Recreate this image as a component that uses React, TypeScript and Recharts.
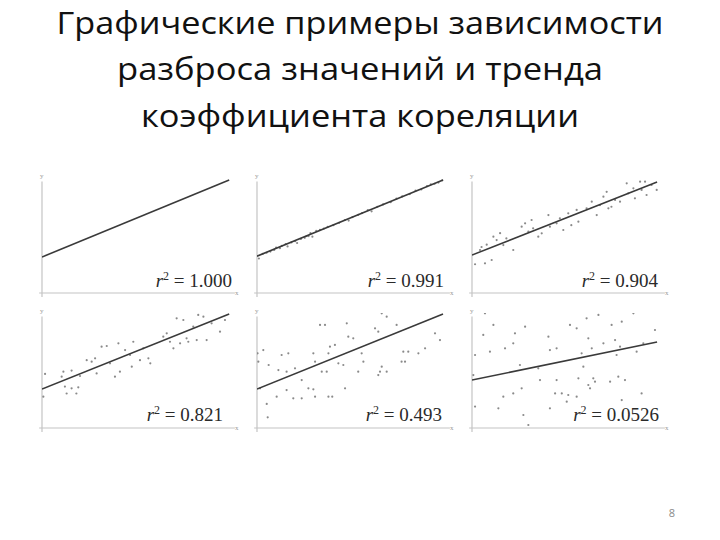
import React from 'react';
import { ScatterChart, Scatter, XAxis, YAxis, ReferenceLine } from 'recharts';

type P = { x: number; y: number };

// ---- data ----
const titleLines = ['Графические примеры зависимости', 'разброса значений и тренда', 'коэффициента кореляции'];
const r2Labels = ['1.000', '0.991', '0.904', '0.821', '0.493', '0.0526'];
const pageNumber = '8';

const trend1: P[] = [{ x: 0, y: 3.13 }, { x: 9.8, y: 9.83 }];
const trend2: P[] = [{ x: 0, y: 3.2 }, { x: 9.74, y: 9.83 }];
const trend3: P[] = [{ x: 0, y: 3.3 }, { x: 9.69, y: 9.65 }];
const trend4: P[] = [{ x: 0, y: 3.39 }, { x: 9.8, y: 9.91 }];
const trend5: P[] = [{ x: 0, y: 3.39 }, { x: 9.74, y: 9.91 }];
const trend6: P[] = [{ x: 0, y: 4.17 }, { x: 9.69, y: 7.48 }];

const points1: P[] = [];

const points2: P[] = [
  { x: 0.1, y: 3.0 }, { x: 0.3, y: 3.4 }, { x: 0.5, y: 3.5 }, { x: 0.7, y: 3.6 }, { x: 0.9, y: 3.75 },
  { x: 1.0, y: 3.95 }, { x: 1.2, y: 3.9 }, { x: 1.3, y: 4.1 }, { x: 1.5, y: 4.25 }, { x: 1.6, y: 4.05 },
  { x: 1.8, y: 4.4 }, { x: 2.0, y: 4.5 }, { x: 2.1, y: 4.35 }, { x: 2.3, y: 4.7 }, { x: 2.5, y: 4.8 },
  { x: 2.6, y: 4.95 }, { x: 2.7, y: 4.95 }, { x: 2.8, y: 5.2 }, { x: 2.9, y: 4.9 }, { x: 3.1, y: 5.4 },
  { x: 3.3, y: 5.5 }, { x: 3.5, y: 5.6 }, { x: 3.7, y: 5.75 }, { x: 4.0, y: 5.9 }, { x: 4.3, y: 6.1 },
  { x: 4.6, y: 6.35 }, { x: 4.8, y: 6.3 }, { x: 5.0, y: 6.6 }, { x: 5.3, y: 6.8 }, { x: 5.5, y: 6.95 },
  { x: 5.8, y: 7.2 }, { x: 6.0, y: 7.1 }, { x: 6.3, y: 7.5 }, { x: 6.6, y: 7.7 }, { x: 7.0, y: 7.9 },
  { x: 7.3, y: 8.2 }, { x: 7.6, y: 8.4 }, { x: 8.0, y: 8.6 }, { x: 8.3, y: 8.9 }, { x: 8.6, y: 9.0 },
  { x: 8.9, y: 9.3 }, { x: 9.1, y: 9.45 }, { x: 9.3, y: 9.5 }, { x: 9.5, y: 9.6 }, { x: 9.7, y: 9.8 },
];

const points3: P[] = [
  { x: 0.16, y: 2.5 }, { x: 0.5, y: 4.0 }, { x: 0.77, y: 4.2 }, { x: 1.03, y: 2.87 }, { x: 0.68, y: 2.58 },
  { x: 1.12, y: 4.9 }, { x: 1.47, y: 5.2 }, { x: 1.64, y: 4.17 }, { x: 1.8, y: 4.75 }, { x: 2.16, y: 3.74 },
  { x: 2.6, y: 5.77 }, { x: 2.78, y: 6.06 }, { x: 3.12, y: 6.35 }, { x: 3.2, y: 5.62 }, { x: 3.47, y: 4.9 },
  { x: 3.65, y: 5.19 }, { x: 4.0, y: 6.78 }, { x: 4.43, y: 6.06 }, { x: 4.78, y: 5.48 }, { x: 5.04, y: 6.93 },
  { x: 5.2, y: 5.9 }, { x: 5.57, y: 6.2 }, { x: 6.0, y: 7.36 }, { x: 6.27, y: 7.94 }, { x: 6.53, y: 6.78 },
  { x: 6.88, y: 8.38 }, { x: 7.05, y: 8.8 }, { x: 7.3, y: 7.5 }, { x: 7.49, y: 8.09 }, { x: 7.75, y: 7.94 },
  { x: 8.1, y: 9.54 }, { x: 8.18, y: 8.67 }, { x: 8.53, y: 8.23 }, { x: 8.8, y: 9.68 }, { x: 8.88, y: 8.96 },
  { x: 9.14, y: 8.52 }, { x: 9.4, y: 9.39 }, { x: 9.67, y: 8.96 }, { x: 9.06, y: 9.68 }, { x: 0.42, y: 3.74 },
  { x: 1.29, y: 4.6 }, { x: 2.95, y: 5.33 }, { x: 4.08, y: 5.77 }, { x: 4.6, y: 6.49 }, { x: 5.48, y: 7.22 },
  { x: 6.7, y: 7.65 }, { x: 7.14, y: 7.36 }, { x: 8.45, y: 9.1 },
];

const points4: P[] = [
  { x: 0.07, y: 2.72 }, { x: 0.16, y: 4.7 }, { x: 1.03, y: 4.46 }, { x: 1.12, y: 4.9 }, { x: 1.55, y: 4.99 },
  { x: 1.2, y: 3.6 }, { x: 1.29, y: 3.0 }, { x: 1.55, y: 3.45 }, { x: 1.8, y: 3.0 }, { x: 1.9, y: 3.54 },
  { x: 1.99, y: 4.52 }, { x: 2.34, y: 5.9 }, { x: 2.6, y: 5.77 }, { x: 2.78, y: 6.06 }, { x: 2.86, y: 4.75 },
  { x: 3.12, y: 7.07 }, { x: 3.39, y: 7.13 }, { x: 3.56, y: 5.62 }, { x: 3.82, y: 4.46 }, { x: 4.08, y: 4.9 },
  { x: 4.0, y: 7.36 }, { x: 4.35, y: 6.78 }, { x: 4.61, y: 6.35 }, { x: 4.7, y: 5.33 }, { x: 4.78, y: 7.5 },
  { x: 5.13, y: 5.9 }, { x: 5.57, y: 6.06 }, { x: 5.67, y: 5.62 }, { x: 5.3, y: 6.93 }, { x: 6.35, y: 7.94 },
  { x: 6.53, y: 8.23 }, { x: 6.7, y: 7.5 }, { x: 7.05, y: 9.54 }, { x: 7.23, y: 7.36 }, { x: 7.57, y: 7.8 },
  { x: 7.66, y: 7.5 }, { x: 7.92, y: 8.81 }, { x: 8.1, y: 7.65 }, { x: 8.18, y: 9.83 }, { x: 8.45, y: 9.68 },
  { x: 8.62, y: 7.65 }, { x: 8.88, y: 9.1 }, { x: 9.32, y: 8.38 }, { x: 9.58, y: 9.39 }, { x: 7.4, y: 9.39 },
  { x: 6.88, y: 6.93 },
];

const points5: P[] = [
  { x: 0.03, y: 6.49 }, { x: 0.07, y: 5.77 }, { x: 0.33, y: 6.78 }, { x: 0.61, y: 5.48 }, { x: 0.16, y: 3.45 },
  { x: 0.51, y: 2.09 }, { x: 0.56, y: 0.93 }, { x: 1.03, y: 2.72 }, { x: 1.12, y: 5.04 }, { x: 1.29, y: 6.35 },
  { x: 1.64, y: 6.49 }, { x: 1.55, y: 4.9 }, { x: 1.55, y: 3.3 }, { x: 1.9, y: 2.58 }, { x: 1.99, y: 5.19 },
  { x: 2.34, y: 2.58 }, { x: 2.34, y: 4.17 }, { x: 2.69, y: 3.45 }, { x: 2.95, y: 3.36 }, { x: 3.04, y: 2.72 },
  { x: 2.95, y: 6.49 }, { x: 3.04, y: 5.77 }, { x: 3.3, y: 8.96 }, { x: 3.56, y: 8.96 }, { x: 3.39, y: 4.9 },
  { x: 3.65, y: 4.9 }, { x: 3.74, y: 2.72 }, { x: 3.94, y: 2.72 }, { x: 3.82, y: 7.07 }, { x: 4.08, y: 7.22 },
  { x: 4.26, y: 5.62 }, { x: 4.52, y: 5.48 }, { x: 4.61, y: 3.45 }, { x: 4.7, y: 9.1 }, { x: 4.78, y: 7.94 },
  { x: 5.04, y: 7.8 }, { x: 5.3, y: 4.9 }, { x: 5.48, y: 6.49 }, { x: 5.57, y: 5.77 }, { x: 6.18, y: 8.67 },
  { x: 6.35, y: 8.38 }, { x: 6.44, y: 4.9 }, { x: 6.53, y: 5.33 }, { x: 6.35, y: 4.6 }, { x: 6.53, y: 9.97 },
  { x: 6.79, y: 9.68 }, { x: 6.79, y: 4.9 }, { x: 7.31, y: 8.96 }, { x: 7.57, y: 5.77 }, { x: 7.75, y: 5.77 },
  { x: 7.66, y: 6.64 }, { x: 7.92, y: 6.64 }, { x: 8.45, y: 6.49 }, { x: 8.8, y: 6.93 }, { x: 9.32, y: 8.23 },
  { x: 9.58, y: 7.65 }, { x: 3.74, y: 6.49 },
];

const points6: P[] = [
  { x: 0.68, y: 9.97 }, { x: 1.12, y: 8.96 }, { x: 0.59, y: 8.09 }, { x: 0.16, y: 6.35 }, { x: 0.16, y: 1.86 },
  { x: 0.07, y: 4.6 }, { x: 0.94, y: 6.64 }, { x: 1.38, y: 1.71 }, { x: 1.73, y: 6.93 }, { x: 1.64, y: 2.72 },
  { x: 2.25, y: 8.23 }, { x: 2.16, y: 7.36 }, { x: 2.16, y: 3.01 }, { x: 2.6, y: 3.45 }, { x: 2.69, y: 1.13 },
  { x: 2.78, y: 8.81 }, { x: 2.51, y: 5.48 }, { x: 2.95, y: 0.26 }, { x: 3.56, y: 4.17 }, { x: 3.47, y: 5.19 },
  { x: 4.0, y: 7.94 }, { x: 4.08, y: 6.78 }, { x: 4.43, y: 6.93 }, { x: 4.08, y: 1.71 }, { x: 4.35, y: 3.01 },
  { x: 4.43, y: 4.17 }, { x: 4.7, y: 3.01 }, { x: 4.96, y: 2.29 }, { x: 5.13, y: 8.96 }, { x: 5.04, y: 2.87 },
  { x: 5.48, y: 8.67 }, { x: 5.48, y: 2.72 }, { x: 5.57, y: 4.32 }, { x: 5.74, y: 6.49 }, { x: 5.83, y: 5.33 },
  { x: 6.0, y: 9.54 }, { x: 6.09, y: 7.8 }, { x: 6.18, y: 3.45 }, { x: 6.27, y: 6.93 }, { x: 6.35, y: 4.32 },
  { x: 6.44, y: 4.03 }, { x: 6.09, y: 3.74 }, { x: 6.62, y: 9.83 }, { x: 6.88, y: 7.36 }, { x: 7.23, y: 4.03 },
  { x: 7.31, y: 8.96 }, { x: 7.49, y: 7.65 }, { x: 7.57, y: 6.35 }, { x: 7.66, y: 4.46 }, { x: 7.75, y: 7.07 },
  { x: 7.84, y: 9.25 }, { x: 7.84, y: 2.43 }, { x: 8.01, y: 4.17 }, { x: 8.45, y: 9.97 }, { x: 8.62, y: 6.64 },
  { x: 8.88, y: 3.01 }, { x: 8.97, y: 7.36 }, { x: 9.58, y: 8.52 },
];

const pointSets = [points1, points2, points3, points4, points5, points6];
const trendSets = [trend1, trend2, trend3, trend4, trend5, trend6];

// ---- layout ----
const PLOT_W = 191;
const PLOT_H = 115;
const M = 10;
const colLefts = [42, 257, 472];
const rowTops = [178, 313];
const labelRight = [232, 444, 658, 223, 442, 659];
const labelBase = [287, 421];
const axisColor = '#c4c4c4';

const Dot = (props: any) => <circle cx={props.cx} cy={props.cy} r={1.1} fill="#8a8a8a" />;
const NoShape = () => <g />;

function Panel({ idx }: { idx: number }) {
  const col = idx % 3;
  const row = Math.floor(idx / 3);
  const left = colLefts[col] - M;
  const top = rowTops[row] - M;
  return (
    <div style={{ position: 'absolute', left, top }}>
      <ScatterChart width={PLOT_W + 2 * M} height={PLOT_H + 2 * M} margin={{ top: M, right: M, bottom: M, left: M }}>
        <XAxis type="number" dataKey="x" domain={[0, 10]} allowDataOverflow hide />
        <YAxis type="number" dataKey="y" domain={[0, 10]} allowDataOverflow hide />
        <ReferenceLine segment={[{ x: -0.15, y: 0 }, { x: 10.1, y: 0 }]} stroke={axisColor} strokeWidth={1.2} ifOverflow="visible" />
        <ReferenceLine segment={[{ x: 0, y: -0.35 }, { x: 0, y: 9.7 }]} stroke={axisColor} strokeWidth={1.2} ifOverflow="visible" />
        <Scatter data={pointSets[idx]} shape={Dot} isAnimationActive={false} />
        <Scatter data={trendSets[idx]} shape={NoShape} line={{ stroke: '#3a3a3a', strokeWidth: 1.6 }} isAnimationActive={false} />
      </ScatterChart>
    </div>
  );
}

export default function App() {
  const titleBase = [34, 80, 127];
  const titleWidths = [607, 486, 438];
  return (
    <div style={{ position: 'absolute', left: 0, top: 0, width: 720, height: 540, background: '#fff', overflow: 'hidden' }}>
      {[0, 1, 2, 3, 4, 5].map((i) => <Panel key={i} idx={i} />)}
      <svg width={720} height={540} style={{ position: 'absolute', left: 0, top: 0, pointerEvents: 'none' }}>
        {titleLines.map((t, i) => (
          <text key={i} x={360} y={titleBase[i]} textAnchor="middle" fontFamily="'Open Sans', sans-serif"
            fontSize={31.5} fill="#111" textLength={titleWidths[i]} lengthAdjust="spacingAndGlyphs">{t}</text>
        ))}
        {r2Labels.map((v, i) => (
          <text key={i} x={labelRight[i]} y={labelBase[Math.floor(i / 3)]} textAnchor="end"
            fontFamily="'Liberation Serif', 'DejaVu Serif', serif" fontSize={19} fill="#2a2a2a">
            <tspan fontStyle="italic">r</tspan>
            <tspan dy={-7} fontSize={12}>2</tspan>
            <tspan dy={7}>{' = ' + v}</tspan>
          </text>
        ))}
        {[0, 1, 2, 3, 4, 5].map((i) => {
          const col = i % 3;
          const row = Math.floor(i / 3);
          const l = colLefts[col];
          const t = rowTops[row];
          return (
            <g key={i} fontFamily="'Liberation Serif', serif" fontSize={7} fill="#999">
              <text x={l - 2} y={t}>y</text>
              <text x={l + PLOT_W + 2} y={t + PLOT_H + 2}>x</text>
            </g>
          );
        })}
        <text x={672} y={517} textAnchor="middle" fontFamily="'Open Sans', sans-serif" fontSize={11} fill="#8a8a8a">{pageNumber}</text>
      </svg>
    </div>
  );
}
